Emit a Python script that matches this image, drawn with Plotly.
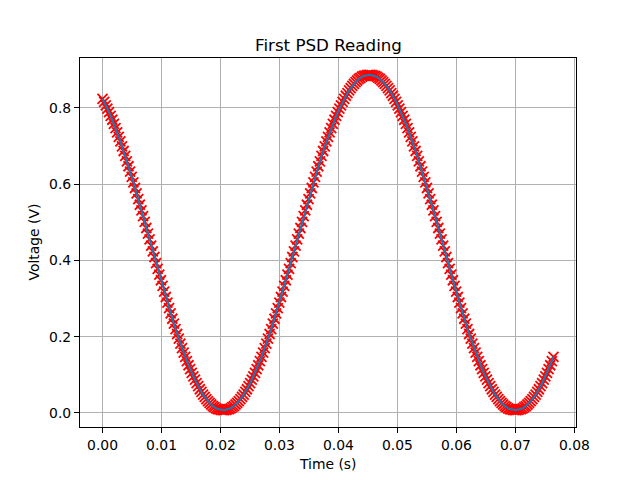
import plotly.graph_objects as go

# Sampling of the trace (start time and sample interval, seconds)
t_start = 0.0
t_step = 0.000275

# Voltage readings (V), split by half-cycle
v_fall_1 = [0.824, 0.816, 0.807, 0.798, 0.789, 0.779, 0.769, 0.758, 0.747, 0.736,
            0.724, 0.712, 0.699, 0.687, 0.674, 0.660, 0.647, 0.633, 0.619, 0.605,
            0.590, 0.576, 0.561, 0.546, 0.531, 0.516, 0.501, 0.485, 0.470, 0.455,
            0.439, 0.424, 0.409, 0.393, 0.378, 0.363, 0.348, 0.333, 0.318, 0.304,
            0.289, 0.275, 0.261, 0.247, 0.234, 0.220, 0.207, 0.195, 0.182, 0.170,
            0.158, 0.147, 0.136, 0.125, 0.115, 0.105, 0.096, 0.087, 0.078, 0.070,
            0.062, 0.055, 0.048, 0.042, 0.036, 0.031, 0.026, 0.022, 0.018, 0.015,
            0.012, 0.010, 0.009, 0.008, 0.007]
v_rise_1 = [0.007, 0.008, 0.009, 0.010, 0.012, 0.015, 0.018, 0.022, 0.026, 0.031,
            0.036, 0.042, 0.048, 0.055, 0.062, 0.070, 0.078, 0.087, 0.096, 0.105,
            0.115, 0.125, 0.136, 0.147, 0.158, 0.170, 0.182, 0.195, 0.207, 0.220,
            0.234, 0.247, 0.261, 0.275, 0.289, 0.304, 0.318, 0.333, 0.348, 0.363,
            0.378, 0.393, 0.409, 0.424, 0.439, 0.455, 0.470, 0.485, 0.501, 0.516,
            0.531, 0.546, 0.561, 0.576, 0.590, 0.605, 0.619, 0.633, 0.647, 0.660,
            0.674, 0.687, 0.699, 0.712, 0.724, 0.736, 0.747, 0.758, 0.769, 0.779,
            0.789, 0.798, 0.807, 0.816, 0.824, 0.832, 0.839, 0.846, 0.852, 0.858,
            0.863, 0.868, 0.872, 0.876, 0.879, 0.882, 0.884, 0.885, 0.886, 0.887]
v_fall_2 = [0.887, 0.886, 0.885, 0.884, 0.882, 0.879, 0.876, 0.872, 0.868, 0.863,
            0.858, 0.852, 0.846, 0.839, 0.832, 0.824, 0.816, 0.807, 0.798, 0.789,
            0.779, 0.769, 0.758, 0.747, 0.736, 0.724, 0.712, 0.699, 0.687, 0.674,
            0.660, 0.647, 0.633, 0.619, 0.605, 0.590, 0.576, 0.561, 0.546, 0.531,
            0.516, 0.501, 0.485, 0.470, 0.455, 0.439, 0.424, 0.409, 0.393, 0.378,
            0.363, 0.348, 0.333, 0.318, 0.304, 0.289, 0.275, 0.261, 0.247, 0.234,
            0.220, 0.207, 0.195, 0.182, 0.170, 0.158, 0.147, 0.136, 0.125, 0.115,
            0.105, 0.096, 0.087, 0.078, 0.070, 0.062, 0.055, 0.048, 0.042, 0.036,
            0.031, 0.026, 0.022, 0.018, 0.015, 0.012, 0.010, 0.009, 0.008, 0.007]
v_rise_2 = [0.007, 0.008, 0.009, 0.010, 0.012, 0.015, 0.018, 0.022, 0.026, 0.031,
            0.036, 0.042, 0.048, 0.055, 0.062, 0.070, 0.078, 0.087, 0.096, 0.105,
            0.115, 0.125, 0.136, 0.147]

voltage = v_fall_1 + v_rise_1 + v_fall_2 + v_rise_2

x_ticks = [0.00, 0.01, 0.02, 0.03, 0.04, 0.05, 0.06, 0.07, 0.08]
x_tick_labels = ["0.00", "0.01", "0.02", "0.03", "0.04", "0.05", "0.06", "0.07", "0.08"]
y_ticks = [0.0, 0.2, 0.4, 0.6, 0.8]
y_tick_labels = ["0.0", "0.2", "0.4", "0.6", "0.8"]

fig = go.Figure()
fig.add_trace(go.Scatter(
    x0=t_start, dx=t_step, y=voltage, mode="markers",
    marker=dict(symbol="x-thin", size=10, color="red",
                line=dict(color="red", width=1.8)),
    showlegend=False, hoverinfo="skip"))
fig.add_trace(go.Scatter(
    x0=t_start, dx=t_step, y=voltage, mode="lines",
    line=dict(color="#1f77b4", width=2.1),
    showlegend=False))

font = "DejaVu Sans"
axis_common = dict(
    showline=True, linecolor="black", linewidth=1.1, mirror=True,
    ticks="outside", ticklen=5, tickwidth=1.1, tickcolor="black",
    showgrid=True, gridcolor="#b0b0b0", gridwidth=1.1,
    zeroline=False, automargin=False,
    tickfont=dict(family=font, size=13.9, color="black"),
)

fig.update_layout(
    width=632, height=472,
    margin=dict(l=72, r=64, t=50, b=53, autoexpand=False),
    paper_bgcolor="white", plot_bgcolor="white",
    font=dict(family=font, color="black"),
    xaxis=dict(range=[-0.00382, 0.08027], tickvals=x_ticks, ticktext=x_tick_labels,
               **axis_common),
    yaxis=dict(range=[-0.037, 0.931], tickvals=y_ticks, ticktext=y_tick_labels,
               **axis_common),
    annotations=[
        dict(text="First PSD Reading", x=0.5, y=1, xref="paper", yref="paper",
             xanchor="center", yanchor="bottom", yshift=1, showarrow=False,
             font=dict(family=font, size=16.7, color="black")),
        dict(text="Time (s)", x=0.5, y=0, xref="paper", yref="paper",
             xanchor="center", yanchor="top", yshift=-27, showarrow=False,
             font=dict(family=font, size=13.9, color="black")),
        dict(text="Voltage (V)", x=0, y=0.5, xref="paper", yref="paper",
             xanchor="right", yanchor="middle", xshift=-37, textangle=-90,
             showarrow=False, font=dict(family=font, size=13.9, color="black")),
    ],
)

fig.write_html("out.html")
